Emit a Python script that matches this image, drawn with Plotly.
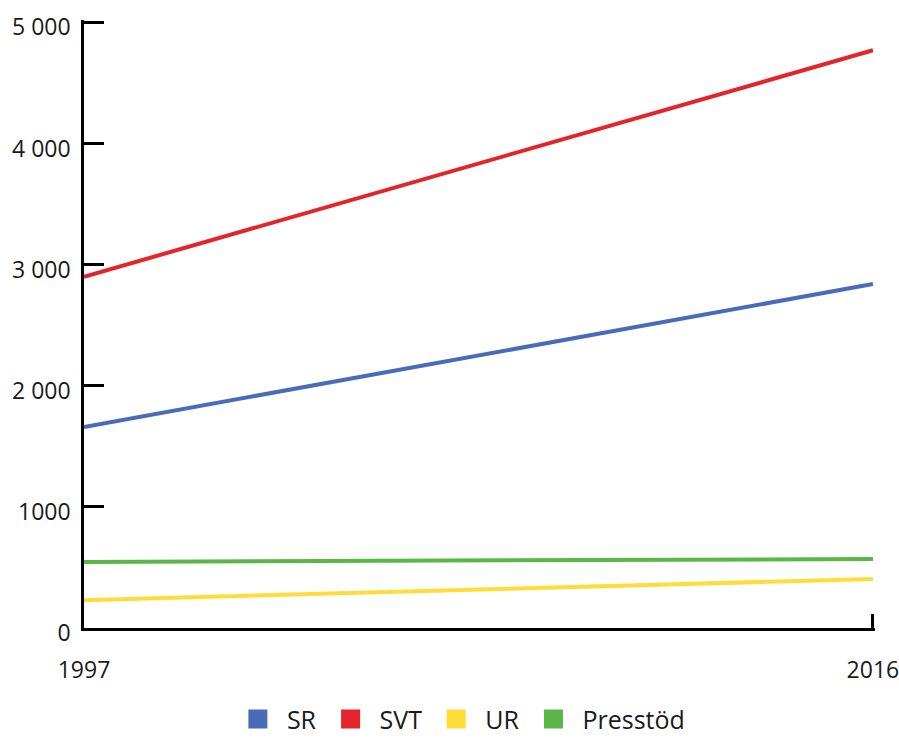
import plotly.graph_objects as go

years = [1997, 2016]
sr = [1660, 2840]
svt = [2900, 4770]
ur = [230, 405]
presstod = [545, 570]

series_names = ["SR", "SVT", "UR", "Presstöd"]
series_values = [sr, svt, ur, presstod]
colors = ["#4A6CB8", "#E5232A", "#FEDD3A", "#5AB646"]

y_tickvals = [0, 1000, 2000, 3000, 4000, 5000]
y_ticktext = ["0", "1000", "2 000", "3 000", "4 000", "5 000"]
x_tickvals = [1997, 2016]
x_ticktext = ["1997", "2016"]

FONT = "Open Sans"

fig = go.Figure()
for name, vals, col in zip(series_names, series_values, colors):
    fig.add_trace(go.Scatter(x=years, y=vals, mode="lines", name=name,
                             line=dict(color=col, width=4), showlegend=False,
                             hoverinfo="x+y+name"))
for name, col in zip(series_names, colors):
    fig.add_trace(go.Scatter(x=[None], y=[None], mode="markers", name=name,
                             marker=dict(symbol="square", size=16, color=col,
                                         line=dict(color=col, width=3)),
                             showlegend=True))

fig.update_layout(
    width=899, height=740,
    margin=dict(l=84, r=24, t=20, b=112),
    paper_bgcolor="white", plot_bgcolor="white",
    font=dict(family=FONT, size=23, color="#1a1a1a"),
    legend=dict(orientation="h", xref="container", yref="container",
                x=0.511, xanchor="center", y=0.028, yanchor="middle",
                font=dict(family=FONT, size=25, color="#1a1a1a"),
                itemwidth=48, bgcolor="rgba(0,0,0,0)"),
    xaxis=dict(range=[1997, 2016.05], tickvals=x_tickvals, ticktext=x_ticktext,
               showgrid=False, zeroline=False, showline=True, linecolor="black",
               linewidth=2.5, ticks="inside", ticklen=14, tickwidth=2.5, tickcolor="black",
               ticklabelstandoff=20, ticklabeloverflow="allow", automargin=False),
    yaxis=dict(range=[0, 5020], tickvals=y_tickvals, ticktext=y_ticktext,
               showgrid=False, zeroline=False, showline=True, linecolor="black",
               linewidth=2.5, ticks="inside", ticklen=20, tickwidth=2.5, tickcolor="black",
               ticklabelstandoff=6, ticklabelshift=5, ticklabeloverflow="allow",
               automargin=False),
)

fig.write_html("out.html", config={"displayModeBar": False},
               post_script="document.body.style.margin='0';")
